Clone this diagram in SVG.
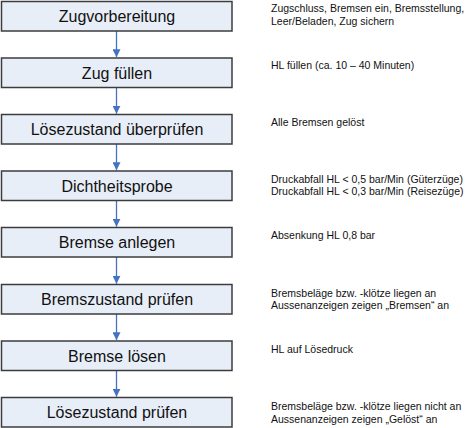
<svg xmlns="http://www.w3.org/2000/svg" width="470" height="428" viewBox="0 0 470 428">
  <style>
    .box { fill: #e8eef8; stroke: #3c3c3c; stroke-width: 1.5; }
    .lbl { font-family: "Liberation Sans", Arial, sans-serif; font-size: 16px; fill: #111; text-anchor: middle; }
    .note { font-family: "Liberation Sans", Arial, sans-serif; font-size: 10.5px; fill: #111; }
    .link { stroke: #4472c4; stroke-width: 1.3; fill: none; marker-end: url(#arrow); }
  </style>
  <defs>
    <marker id="arrow" viewBox="0 0 8 8" refX="8" refY="4" markerWidth="8" markerHeight="8" markerUnits="userSpaceOnUse" orient="auto">
      <path d="M0,0 L8,4 L0,8 Z" fill="#4472c4"/>
    </marker>
  </defs>
  <rect width="470" height="428" fill="#ffffff"/>

  <g id="connectors">
    <line class="link" x1="116.5" y1="31" x2="116.5" y2="57.2"/>
    <line class="link" x1="116.5" y1="87.5" x2="116.5" y2="113.7"/>
    <line class="link" x1="116.5" y1="144" x2="116.5" y2="170.2"/>
    <line class="link" x1="116.5" y1="200.5" x2="116.5" y2="226.7"/>
    <line class="link" x1="116.5" y1="257" x2="116.5" y2="283.7"/>
    <line class="link" x1="116.5" y1="314" x2="116.5" y2="340.2"/>
    <line class="link" x1="116.5" y1="370.5" x2="116.5" y2="396.7"/>
  </g>

  <g id="zugvorbereitung">
    <rect class="box" x="1.5" y="1.5" width="230.5" height="29.5"/>
    <text class="lbl" x="117" y="22">Zugvorbereitung</text>
    <text class="note" x="271" y="12">Zugschluss, Bremsen ein, Bremsstellung,</text>
    <text class="note" x="271" y="24.5">Leer/Beladen, Zug sichern</text>
  </g>

  <g id="zug-fuellen">
    <rect class="box" x="1.5" y="58" width="230.5" height="29.5"/>
    <text class="lbl" x="117" y="78.5">Zug füllen</text>
    <text class="note" x="271" y="69">HL füllen (ca. 10 – 40 Minuten)</text>
  </g>

  <g id="loesezustand-ueberpruefen">
    <rect class="box" x="1.5" y="114.5" width="230.5" height="29.5"/>
    <text class="lbl" x="117" y="135">Lösezustand überprüfen</text>
    <text class="note" x="271" y="125.5">Alle Bremsen gelöst</text>
  </g>

  <g id="dichtheitsprobe">
    <rect class="box" x="1.5" y="171" width="230.5" height="29.5"/>
    <text class="lbl" x="117" y="191.5">Dichtheitsprobe</text>
    <text class="note" x="271" y="182.5">Druckabfall HL &lt; 0,5 bar/Min (Güterzüge)</text>
    <text class="note" x="271" y="195">Druckabfall HL &lt; 0,3 bar/Min (Reisezüge)</text>
  </g>

  <g id="bremse-anlegen">
    <rect class="box" x="1.5" y="227.5" width="230.5" height="29.5"/>
    <text class="lbl" x="117" y="248">Bremse anlegen</text>
    <text class="note" x="271" y="239">Absenkung HL 0,8 bar</text>
  </g>

  <g id="bremszustand-pruefen">
    <rect class="box" x="1.5" y="284.5" width="230.5" height="29.5"/>
    <text class="lbl" x="117" y="305">Bremszustand prüfen</text>
    <text class="note" x="271" y="296.5">Bremsbeläge bzw. -klötze liegen an</text>
    <text class="note" x="271" y="309">Aussenanzeigen zeigen „Bremsen“ an</text>
  </g>

  <g id="bremse-loesen">
    <rect class="box" x="1.5" y="341" width="230.5" height="29.5"/>
    <text class="lbl" x="117" y="361.5">Bremse lösen</text>
    <text class="note" x="271" y="353">HL auf Lösedruck</text>
  </g>

  <g id="loesezustand-pruefen">
    <rect class="box" x="1.5" y="397.5" width="230.5" height="29.5"/>
    <text class="lbl" x="117" y="418">Lösezustand prüfen</text>
    <text class="note" x="271" y="410">Bremsbeläge bzw. -klötze liegen nicht an</text>
    <text class="note" x="271" y="422.5">Aussenanzeigen zeigen „Gelöst“ an</text>
  </g>
</svg>
